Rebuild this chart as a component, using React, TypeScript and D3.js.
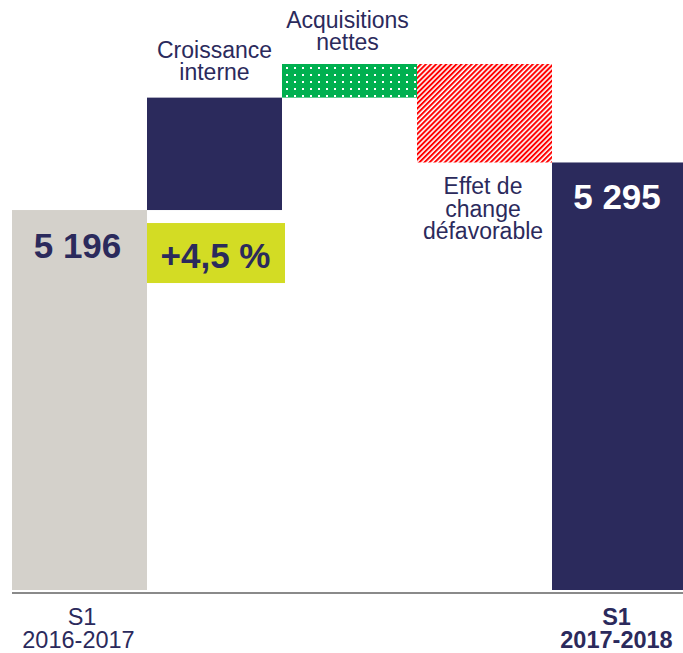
import React from "react";
import * as d3 from "d3";

const categories = ["S1 2016-2017", "Croissance interne", "Acquisitions nettes", "Effet de change", "S1 2017-2018"];
const startValue = 5196;
const deltas = [234, 70, -205];
const endValue = 5295;
const totalLabels = ["5 196", "5 295"];
const growthLabel = "+4,5 %";
const deltaLabels = [["Croissance", "interne"], ["Acquisitions", "nettes"], ["Effet de", "change", "défavorable"]];

const W = 683, H = 653;
const NAVY = "#2b2a5c";
const GRAY = "#d4d1cb";
const GREEN = "#00b050";
const RED = "#ff0000";
const LIME = "#d3dc24";
const FONT = "'Liberation Sans', Arial, sans-serif";

export default function App() {
  const x = d3.scaleBand<string>().domain(categories).range([12, 687]).paddingInner(0).paddingOuter(0);
  const y = d3.scaleLinear().domain([4405, 5500]).range([590, 64]);
  const bw = x.bandwidth();

  const segs: { cat: string; y0: number; y1: number }[] = [];
  let run = startValue;
  deltas.forEach((d, i) => {
    segs.push({ cat: categories[i + 1], y0: run, y1: run + d });
    run += d;
  });
  const fills = [NAVY, "url(#dots)", "url(#hatch)"];

  const x0 = x(categories[0])!;
  const x4 = x(categories[4])!;

  return (
    <svg width={W} height={H} style={{ position: "absolute", left: 0, top: 0 }} fontFamily={FONT}>
      <defs>
        <pattern id="dots" width={8} height={7} patternUnits="userSpaceOnUse" x={282} y={64}>
          <rect width={8} height={7} fill={GREEN} />
          <rect x={4} y={3} width={2} height={2} fill="#fff" />
        </pattern>
        <pattern id="hatch" width={3.6} height={3.6} patternUnits="userSpaceOnUse" patternTransform="rotate(45)">
          <rect width={3.6} height={3.6} fill="#fff" />
          <rect width={2} height={3.6} fill={RED} />
        </pattern>
      </defs>
      <rect width={W} height={H} fill="#fff" />

      <rect x={x0} y={y(startValue)} width={bw} height={y.range()[0] - y(startValue)} fill={GRAY} />
      <rect x={x4} y={y(endValue)} width={bw} height={y.range()[0] - y(endValue)} fill={NAVY} />

      {segs.map((s, i) => (
        <rect key={s.cat} x={x(s.cat)!} y={y(Math.max(s.y0, s.y1))} width={bw}
          height={Math.abs(y(s.y0) - y(s.y1))} fill={fills[i]} />
      ))}

      <rect x={x(categories[1])!} y={y(startValue) + 13} width={bw + 3} height={60} fill={LIME} />
      <text x={x(categories[1])! + bw / 2 + 1} y={y(startValue) + 58} textAnchor="middle" fontSize={35} fontWeight="bold" fill={NAVY}>{growthLabel}</text>

      <text x={x0 + bw / 2 - 2} y={y(startValue) + 48} textAnchor="middle" fontSize={35} fontWeight="bold" fill={NAVY}>{totalLabels[0]}</text>
      <text x={x4 + bw / 2 - 2.5} y={y(endValue) + 47} textAnchor="middle" fontSize={35} fontWeight="bold" fill="#fff">{totalLabels[1]}</text>

      {deltaLabels[0].map((t, j) => (
        <text key={t} x={x(categories[1])! + bw / 2} y={58 + j * 22} textAnchor="middle" fontSize={23} fill={NAVY}>{t}</text>
      ))}
      {deltaLabels[1].map((t, j) => (
        <text key={t} x={x(categories[2])! + bw / 2 - 2} y={28 + j * 22} textAnchor="middle" fontSize={23} fill={NAVY}>{t}</text>
      ))}
      {deltaLabels[2].map((t, j) => (
        <text key={t} x={x(categories[3])! + bw / 2 - 1.5} y={194 + j * 22.5} textAnchor="middle" fontSize={23} fill={NAVY}>{t}</text>
      ))}

      <line x1={12} x2={W} y1={593} y2={593} stroke="#8a8a8a" strokeWidth={2} />

      <text x={x0 + bw / 2 + 2.5} y={625} textAnchor="middle" fontSize={23.5} fill={NAVY}>S1</text>
      <text x={x0 + bw / 2 - 1} y={648} textAnchor="middle" fontSize={23.5} fill={NAVY}>2016-2017</text>
      <text x={x4 + bw / 2 - 3} y={625} textAnchor="middle" fontSize={23.5} fontWeight="bold" fill={NAVY}>S1</text>
      <text x={x4 + bw / 2 - 3} y={648} textAnchor="middle" fontSize={23.5} fontWeight="bold" fill={NAVY}>2017-2018</text>
    </svg>
  );
}
